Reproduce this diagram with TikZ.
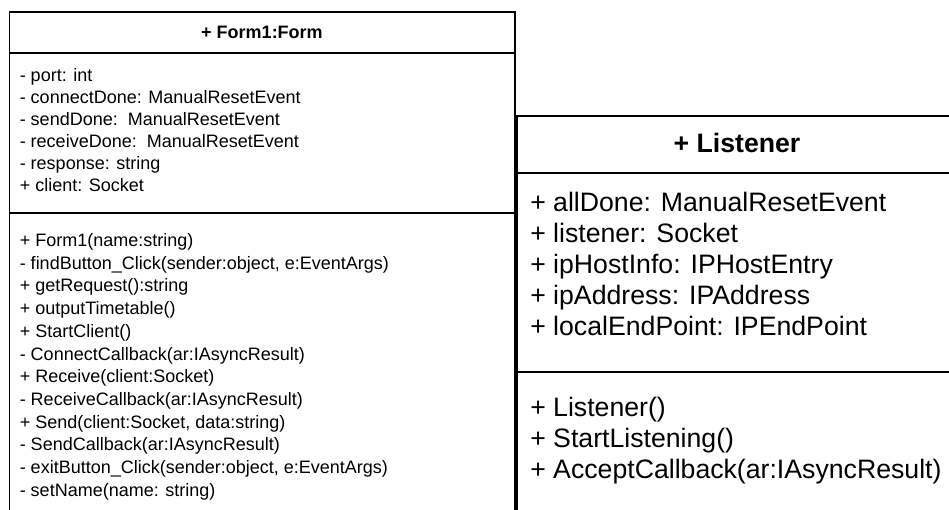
\documentclass[tikz,border=0pt]{standalone}
\usepackage{fontspec}
\setmainfont{Liberation Sans}
\begin{document}
\begin{tikzpicture}[x=0.75pt,y=-0.75pt]
\tikzset{
 classline/.style={draw=black, line width=1.1pt},
 ltxt/.style={anchor=base west, inner sep=0pt, font=\fontsize{13.5}{16}\selectfont},
 ltitle/.style={anchor=base, inner sep=0pt, font=\fontsize{13.5}{16}\selectfont\bfseries},
 rtxt/.style={anchor=base west, inner sep=0pt, font=\fontsize{20}{24}\selectfont},
 rtitle/.style={anchor=base, inner sep=0pt, font=\fontsize{20}{24}\selectfont\bfseries},
}
\useasboundingbox (0,0) rectangle (949,510);
\fill[white] (0,0) rectangle (949,510);
\clip (0,0) rectangle (949,510);
% left class
\draw[classline] (9.5,12) rectangle (515,530);
\draw[classline] (9.5,53) -- (515,53);
\draw[classline] (9.5,213) -- (515,213);
\node[ltitle] (ftitle) at (262,38.5) {+ Form1:Form};
\foreach \t [count=\i] in {
 {- port: int},
 {- connectDone: ManualResetEvent},
 {- sendDone:\ \ ManualResetEvent},
 {- receiveDone:\ \ ManualResetEvent},
 {- response: string},
 {+ client: Socket}}
 \node[ltxt] (fa\i) at (19.5,{81.5+22*(\i-1)}) {\t};
\foreach \t [count=\i] in {
 {+ Form1(name:string)},
 {- findButton\_Click(sender:object, e:EventArgs)},
 {+ getRequest():string},
 {+ outputTimetable()},
 {+ StartClient()},
 {- ConnectCallback(ar:IAsyncResult)},
 {+ Receive(client:Socket)},
 {- ReceiveCallback(ar:IAsyncResult)},
 {+ Send(client:Socket, data:string)},
 {- SendCallback(ar:IAsyncResult)},
 {- exitButton\_Click(sender:object, e:EventArgs)},
 {- setName(name: string)}}
 \node[ltxt] (fm\i) at (19.5,{246.5+22.7*(\i-1)}) {\t};
% right class
\draw[classline] (517,116) rectangle (970,530);
\draw[classline] (517,173) -- (970,173);
\draw[classline] (517,372) -- (970,372);
\node[rtitle] (ltitle) at (737,152) {+ Listener};
\foreach \t [count=\i] in {
 {+ allDone: ManualResetEvent},
 {+ listener: Socket},
 {+ ipHostInfo: IPHostEntry},
 {+ ipAddress: IPAddress},
 {+ localEndPoint: IPEndPoint}}
 \node[rtxt] (la\i) at (530,{211.5+31*(\i-1)}) {\t};
\foreach \t [count=\i] in {
 {+ Listener()},
 {+ StartListening()},
 {+ AcceptCallback(ar:IAsyncResult)}}
 \node[rtxt] (lm\i) at (530,{416.5+31*(\i-1)}) {\t};
\end{tikzpicture}
\end{document}
